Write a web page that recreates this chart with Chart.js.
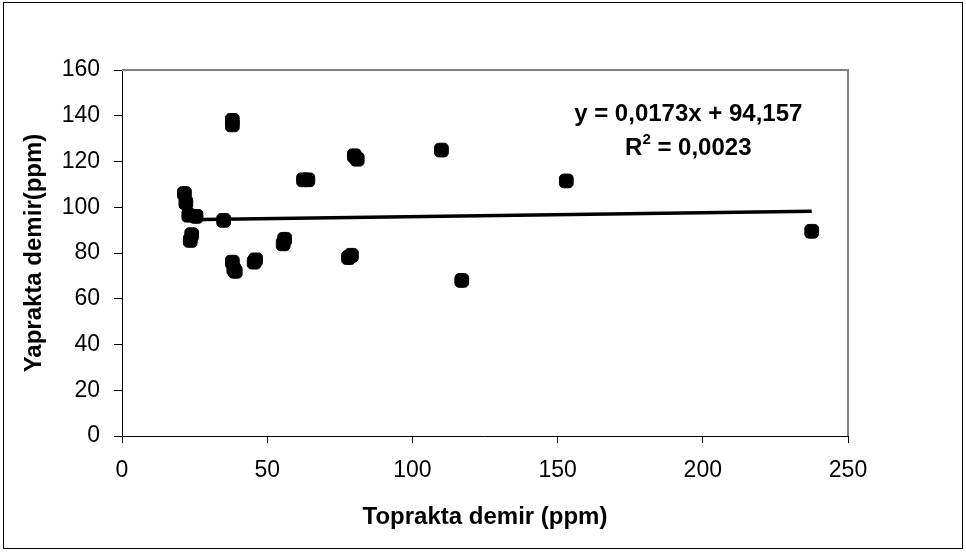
<!DOCTYPE html>
<html>
<head>
<meta charset="utf-8">
<script src="https://cdn.jsdelivr.net/npm/chart.js@4"></script>
<style>
  html, body { margin: 0; padding: 0; background: #fff; }
  #wrap { width: 966px; height: 554px; }
</style>
</head>
<body>
<div id="wrap"><canvas id="feChart" width="966" height="554"></canvas></div>
<script>
// soil iron (x) vs leaf iron (y), ppm
const soilFe = [21.5, 22, 23, 25.5, 24, 23.5, 35, 38, 38, 38, 38.5, 39, 45.5, 46, 55.5, 56, 62.5, 64, 78, 79, 80, 81, 110, 117, 153, 237.5];
const leafFe = [106, 102, 96.5, 96, 88, 85.5, 94.3, 138, 136, 76, 73, 72, 76, 77, 84, 86, 112, 112, 78, 79, 122.5, 121, 125, 68, 111.5, 89.5];

// linear trend from the reference
const slope = 0.0173;
const intercept = 94.157;
const rSquared = "0,0023";

const xTicks = [0, 50, 100, 150, 200, 250];
const yTicks = [0, 20, 40, 60, 80, 100, 120, 140, 160];

const points = soilFe.map((x, i) => ({ x: x, y: leafFe[i] }));
const xMin = Math.min(...soilFe);
const xMax = Math.max(...soilFe);
const trend = [xMin, xMax].map(x => ({ x: x, y: slope * x + intercept }));

const FONT = "'Liberation Sans', Arial, sans-serif";

// outer frame, gray top/right plot border, equation text
const decor = {
  id: "decor",
  beforeDraw(chart) {
    const ctx = chart.ctx;
    ctx.save();
    ctx.fillStyle = "#fff";
    ctx.fillRect(0, 0, chart.width, chart.height);
    ctx.restore();
  },
  beforeDatasetsDraw(chart) {
    const { ctx, chartArea: a } = chart;
    ctx.save();
    ctx.strokeStyle = "#808080";
    ctx.lineWidth = 2;
    ctx.beginPath();
    ctx.moveTo(a.left, a.top);
    ctx.lineTo(a.right, a.top);
    ctx.lineTo(a.right, a.bottom);
    ctx.stroke();
    ctx.restore();
  },
  afterDraw(chart) {
    const ctx = chart.ctx;
    ctx.save();
    ctx.strokeStyle = "#000";
    ctx.lineWidth = 1;
    ctx.strokeRect(3.5, 2.5, 959, 546);

    const cx = chart.scales.x.getPixelForValue(195);
    const y1 = chart.scales.y.getPixelForValue(140.5);
    ctx.fillStyle = "#000";
    ctx.font = "bold 24px " + FONT;
    ctx.textAlign = "center";
    ctx.textBaseline = "middle";
    const eq = "y = " + String(slope).replace(".", ",") + "x + " + String(intercept).replace(".", ",");
    ctx.fillText(eq, cx, y1);

    const y2 = y1 + 34;
    const left = "R";
    const right = " = " + rSquared;
    const wL = ctx.measureText(left).width;
    ctx.font = "bold 15px " + FONT;
    const wS = ctx.measureText("2").width;
    ctx.font = "bold 24px " + FONT;
    const wR = ctx.measureText(right).width;
    let sx = cx - (wL + wS + wR) / 2;
    ctx.textAlign = "left";
    ctx.fillText(left, sx, y2);
    ctx.font = "bold 15px " + FONT;
    ctx.fillText("2", sx + wL, y2 - 9);
    ctx.font = "bold 24px " + FONT;
    ctx.fillText(right, sx + wL + wS, y2);
    ctx.restore();
  }
};

new Chart(document.getElementById("feChart"), {
  type: "scatter",
  data: {
    datasets: [{
      data: points,
      backgroundColor: "#000",
      borderColor: "#000",
      pointStyle: "rectRounded",
      pointRadius: 8,
      pointHoverRadius: 8,
      order: 2
    }, {
      type: "line",
      data: trend,
      borderColor: "#000",
      borderWidth: 3.5,
      pointRadius: 0,
      fill: false,
      order: 1
    }]
  },
  options: {
    responsive: false,
    animation: false,
    layout: { padding: { left: 14, top: 70, right: 118, bottom: 18 } },
    plugins: {
      legend: { display: false },
      tooltip: { enabled: false }
    },
    scales: {
      x: {
        type: "linear",
        min: 0,
        max: 250,
        afterBuildTicks: s => { s.ticks = xTicks.map(v => ({ value: v })); },
        afterFit: s => { s.height = 100; },
        grid: { drawOnChartArea: false, drawTicks: true, tickLength: 7, tickColor: "#000" },
        border: { color: "#000", width: 1 },
        ticks: { color: "#000", font: { family: FONT, size: 23 }, padding: 14, maxRotation: 0 },
        title: { display: true, text: "Toprakta demir (ppm)", color: "#000", font: { family: FONT, size: 24, weight: "bold" }, padding: { top: 16 } }
      },
      y: {
        type: "linear",
        min: 0,
        max: 160,
        afterBuildTicks: s => { s.ticks = yTicks.map(v => ({ value: v })); },
        afterFit: s => { s.width = 108; },
        grid: { drawOnChartArea: false, drawTicks: true, tickLength: 8, tickColor: "#000" },
        border: { color: "#000", width: 1 },
        ticks: { color: "#000", font: { family: FONT, size: 23 }, padding: 14 },
        title: { display: true, text: "Yaprakta demir(ppm)", color: "#000", font: { family: FONT, size: 24, weight: "bold" }, padding: { bottom: 0, top: 6 } }
      }
    }
  },
  plugins: [decor]
});
</script>
</body>
</html>
